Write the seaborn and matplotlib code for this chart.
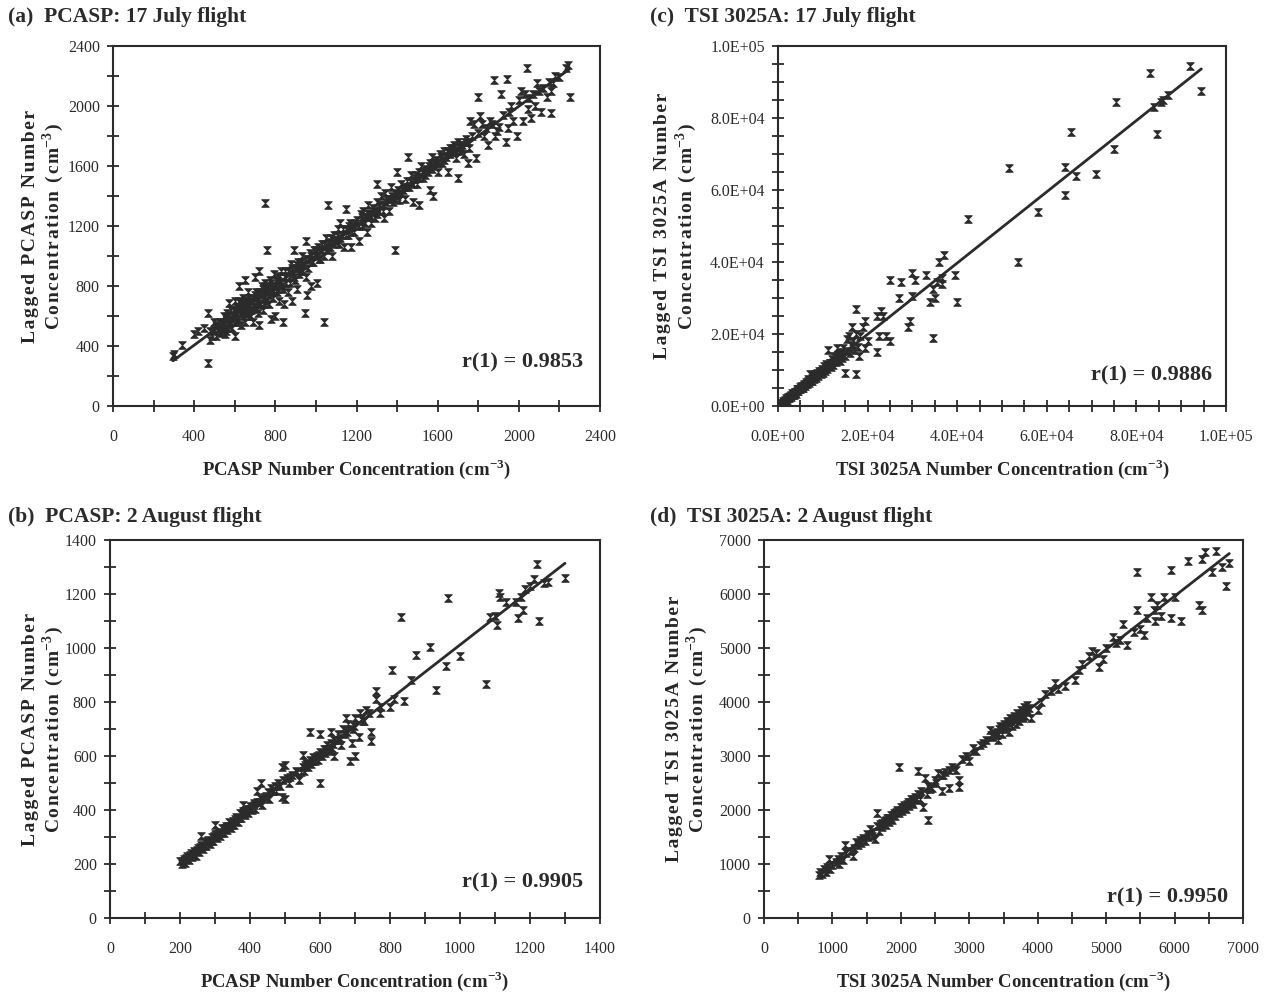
import numpy as np
import matplotlib
matplotlib.use("Agg")
import matplotlib.pyplot as plt
from matplotlib.path import Path
from matplotlib.ticker import MultipleLocator, FuncFormatter
import seaborn as sns

# ---- data (x = instrument, y = lagged) ----
pcasp_jul = [
    (295, 335), (300, 345), (340, 410), (400, 480), (420, 500), (450, 520), (470, 290), (470, 620),
    (480, 440), (490, 470), (500, 560), (510, 470), (520, 520), (520, 560), (530, 500), (540, 540),
    (545, 600), (550, 480), (555, 580), (560, 620), (560, 520), (570, 690), (575, 560), (580, 640),
    (590, 600), (600, 470), (600, 560), (600, 700), (605, 620), (610, 660), (615, 580), (620, 800),
    (620, 640), (625, 690), (630, 540), (640, 720), (640, 600), (645, 650), (650, 840), (650, 560),
    (655, 700), (660, 620), (665, 760), (670, 680), (675, 600), (680, 640), (690, 720), (690, 560),
    (700, 860), (700, 660), (705, 760), (710, 700), (715, 620), (720, 540), (720, 900), (725, 740),
    (730, 680), (735, 800), (740, 640), (745, 720), (750, 1350), (750, 820), (755, 700), (760, 1040),
    (760, 760), (770, 680), (775, 840), (780, 580), (785, 780), (790, 720), (795, 880), (800, 800),
    (800, 600), (810, 760), (815, 860), (820, 700), (825, 820), (830, 900), (840, 560), (840, 780),
    (845, 680), (850, 860), (860, 900), (860, 760), (870, 820), (875, 950), (880, 700), (885, 880),
    (890, 1040), (895, 840), (900, 920), (905, 780), (910, 960), (920, 900), (930, 1000), (940, 940),
    (945, 620), (950, 1100), (950, 860), (955, 740), (960, 980), (970, 1020), (975, 800), (980, 960),
    (990, 1040), (1000, 1000), (1005, 820), (1010, 1060), (1020, 980), (1030, 1080), (1040, 560),
    (1040, 1000), (1050, 1120), (1055, 1040), (1060, 1340), (1065, 1090), (1070, 1060), (1080, 1000),
    (1090, 1140), (1100, 1100), (1110, 1180), (1115, 1080), (1120, 1220), (1130, 1140), (1140, 1060),
    (1150, 1310), (1150, 1180), (1160, 1140), (1170, 1220), (1175, 1060), (1180, 1200), (1190, 1160),
    (1200, 1240), (1210, 1100), (1220, 1280), (1225, 1200), (1230, 1300), (1240, 1260), (1250, 1160),
    (1255, 1340), (1260, 1280), (1270, 1220), (1280, 1320), (1290, 1250), (1300, 1480), (1300, 1360),
    (1310, 1300), (1320, 1400), (1330, 1340), (1335, 1250), (1340, 1420), (1350, 1380), (1360, 1300),
    (1370, 1460), (1380, 1360), (1390, 1040), (1390, 1420), (1400, 1560), (1400, 1400), (1410, 1370),
    (1420, 1480), (1430, 1440), (1440, 1380), (1450, 1500), (1455, 1660), (1460, 1460), (1470, 1540),
    (1480, 1360), (1490, 1520), (1500, 1480), (1510, 1340), (1510, 1560), (1520, 1600), (1530, 1520),
    (1540, 1580), (1550, 1560), (1560, 1440), (1560, 1620), (1570, 1660), (1575, 1400), (1580, 1600),
    (1590, 1640), (1600, 1560), (1610, 1680), (1620, 1620), (1630, 1700), (1640, 1660), (1650, 1560),
    (1660, 1720), (1670, 1690), (1680, 1740), (1690, 1650), (1700, 1760), (1700, 1520), (1710, 1700),
    (1720, 1740), (1730, 1680), (1740, 1780), (1750, 1620), (1755, 1720), (1760, 1900), (1770, 1800),
    (1780, 1880), (1790, 1650), (1800, 2060), (1800, 1820), (1810, 1930), (1820, 1880), (1830, 1800),
    (1840, 1850), (1850, 1740), (1860, 1900), (1870, 1880), (1880, 2170), (1885, 1800), (1890, 1830),
    (1900, 1860), (1910, 2080), (1920, 1940), (1935, 1760), (1940, 2180), (1945, 1850), (1950, 1960),
    (1960, 2000), (1970, 1900), (1990, 1800), (2000, 2040), (2010, 2100), (2020, 1900), (2030, 2080),
    (2040, 2250), (2045, 1980), (2050, 2050), (2060, 1920), (2070, 2080), (2080, 2000), (2090, 2150),
    (2100, 2100), (2110, 1960), (2120, 2120), (2140, 2060), (2150, 2160), (2160, 1950), (2160, 2100),
    (2170, 2150), (2180, 2200), (2200, 2190), (2230, 2250), (2240, 2270), (2250, 2060),
    # dense core of the band
    (480, 500), (500, 510), (510, 540), (525, 490), (535, 560), (545, 520), (555, 500), (565, 600),
    (570, 540), (580, 580), (585, 520), (595, 640), (600, 600), (610, 560), (620, 700), (630, 620),
    (635, 680), (650, 620), (650, 700), (660, 660), (670, 720), (680, 600), (685, 700), (695, 660),
    (700, 740), (710, 650), (720, 760), (725, 680), (740, 780), (745, 680), (760, 800), (770, 740),
    (780, 820), (790, 760), (805, 840), (815, 780), (825, 870), (835, 800), (850, 900), (855, 820),
    (865, 860), (880, 920), (890, 860), (905, 940), (915, 880), (925, 960), (935, 900), (950, 980),
    (960, 920), (975, 1000), (985, 960), (1000, 1040), (1015, 980), (1025, 1040), (1040, 1080),
    (1060, 1060), (1075, 1120), (1090, 1080), (1105, 1140), (1120, 1120), (1135, 1180), (1150, 1140),
    (1165, 1200), (1180, 1160), (1195, 1220), (1210, 1200), (1225, 1260), (1240, 1220), (1255, 1280),
    (1270, 1260), (1285, 1300), (1300, 1280), (1315, 1340), (1330, 1300), (1345, 1360), (1360, 1380),
    (1375, 1400), (1390, 1380), (1405, 1440), (1420, 1420), (1435, 1460), (1450, 1460), (1465, 1500),
    (1480, 1480), (1495, 1540), (1510, 1520), (1525, 1560), (1540, 1540), (1555, 1600), (1570, 1580),
    (1585, 1620), (1600, 1620), (1615, 1660), (1630, 1640), (1645, 1700), (1660, 1680), (1675, 1720),
    (1690, 1700), (1705, 1740), (1720, 1720), (1735, 1760), (1750, 1760),
]

pcasp_aug = [
    (200, 210), (205, 200), (210, 220), (215, 205), (220, 230), (225, 215), (230, 240), (235, 225),
    (240, 250), (245, 230), (250, 260), (255, 245), (260, 305), (260, 270), (265, 255), (270, 280),
    (275, 265), (280, 290), (285, 275), (290, 300), (295, 285), (300, 345), (300, 310), (305, 295),
    (310, 320), (315, 305), (320, 335), (325, 315), (330, 340), (335, 325), (340, 355), (345, 335),
    (350, 360), (355, 345), (360, 375), (365, 355), (370, 390), (375, 370), (380, 420), (380, 395),
    (385, 380), (390, 405), (395, 390), (400, 415), (405, 400), (410, 425), (415, 405), (420, 470),
    (420, 430), (430, 500), (430, 440), (435, 420), (440, 450), (450, 465), (455, 440), (460, 480),
    (470, 490), (475, 470), (480, 500), (490, 560), (490, 450), (495, 510), (500, 440), (500, 565),
    (505, 520), (510, 500), (520, 530), (530, 545), (540, 510), (545, 540), (550, 605), (550, 560),
    (555, 545), (560, 575), (565, 560), (570, 690), (570, 585), (575, 570), (580, 595), (585, 580),
    (590, 600), (595, 585), (600, 500), (600, 680), (600, 615), (605, 600), (610, 625), (615, 610),
    (620, 640), (625, 620), (630, 690), (630, 650), (635, 630), (640, 600), (640, 660), (650, 680),
    (655, 660), (660, 640), (665, 700), (670, 680), (675, 740), (680, 720), (685, 580), (690, 650),
    (695, 700), (700, 600), (700, 740), (710, 670), (715, 760), (720, 740), (725, 730), (730, 770),
    (740, 760), (745, 690), (745, 655), (760, 840), (760, 810), (770, 760), (775, 780), (800, 780),
    (805, 920), (810, 810), (830, 1115), (840, 805), (860, 880), (875, 975), (915, 1005), (930, 845),
    (960, 935), (965, 1185), (1000, 970), (1075, 865), (1085, 1115), (1100, 1120), (1105, 1085),
    (1110, 1205), (1115, 1190), (1130, 1170), (1160, 1170), (1165, 1110), (1175, 1190), (1180, 1140),
    (1185, 1220), (1200, 1230), (1210, 1255), (1220, 1310), (1225, 1100), (1240, 1240), (1250, 1245),
    (1300, 1260),
    # dense core
    (208, 212), (218, 222), (228, 232), (238, 236), (248, 252), (258, 262), (268, 266), (278, 284),
    (288, 286), (298, 304), (308, 312), (318, 316), (328, 334), (338, 342), (348, 346), (358, 366),
    (368, 372), (378, 384), (388, 392), (398, 404), (412, 418), (425, 428), (445, 452), (465, 470),
    (485, 490), (515, 522), (535, 540), (558, 566), (578, 582), (598, 604), (618, 626), (638, 644),
    (658, 668), (678, 690), (698, 712), (722, 728),
]

tsi_jul = [
    (500, 400), (800, 600), (1000, 900), (1200, 1400), (1500, 1000), (1500, 1800), (1800, 2200),
    (2000, 1600), (2200, 2600), (2500, 2100), (2500, 2500), (2800, 3000), (3000, 2600), (3200, 3500),
    (3500, 3100), (3500, 3600), (3800, 4000), (4000, 3400), (4200, 4600), (4500, 4100), (4500, 4600),
    (4800, 5200), (5000, 4600), (5200, 5600), (5500, 5000), (5500, 5600), (5800, 6200), (6000, 5500),
    (6200, 6800), (6500, 6000), (6800, 7400), (7000, 6500), (7200, 8800), (7500, 7000), (7800, 8200),
    (8000, 7400), (8200, 9000), (8500, 7900), (8800, 9300), (9000, 8300), (9200, 9800), (9500, 8800),
    (9800, 10400), (10000, 9200), (10300, 11000), (10500, 9800), (10800, 11600), (11000, 10200),
    (11200, 15500), (11500, 12000), (11800, 10800), (12000, 13000), (12300, 11500), (12600, 14000),
    (13000, 12200), (13200, 16200), (13500, 13000), (13800, 12500), (14000, 15000), (14300, 13400),
    (14600, 16000), (15000, 14000), (15000, 9200), (15300, 18500), (15500, 15200), (15800, 19500),
    (16000, 14800), (16300, 17000), (16500, 22000), (16800, 18000), (17000, 15500), (17300, 20000),
    (17500, 27000), (17500, 9000), (17800, 16500), (18000, 14000), (18200, 19500), (19000, 22000),
    (19500, 23500), (19500, 16000), (20000, 18000), (22000, 15000), (22000, 25000), (22500, 19500),
    (23000, 26500), (23500, 25000), (24000, 19500), (25000, 18000), (25000, 35000), (27000, 30000),
    (27500, 34500), (29000, 22000), (29500, 23500), (30000, 30500), (30000, 37000), (30500, 35000),
    (33000, 36500), (34000, 29000), (34500, 19000), (34500, 32500), (35000, 30000), (35500, 34500),
    (36000, 40000), (36500, 35500), (36500, 34000), (37000, 42000), (39500, 36500), (40000, 29000),
    (42500, 52000), (51500, 66000), (53500, 40000), (58000, 54000), (64000, 58500), (64000, 66500),
    (65500, 76000), (66500, 64000), (71000, 64500), (75000, 71500), (75500, 84500), (83000, 92500),
    (84000, 83000), (84500, 75500), (85500, 84500), (86000, 85000), (87000, 86500), (92000, 94500),
    (94500, 87500),
    # dense core near the origin
    (300, 200), (700, 800), (1300, 1100), (1700, 1500), (2300, 2200), (2700, 2800), (3300, 3000),
    (3700, 3800), (4300, 4100), (4700, 4800), (5300, 5100), (5700, 5900), (6300, 6100), (6700, 7000),
    (7300, 7000), (7700, 7900), (8300, 8100), (8700, 8900), (9300, 9100), (9700, 9600), (10200, 10100),
    (10700, 10500), (11300, 11200), (11700, 11900), (12200, 12100), (12700, 12500), (13300, 13500),
    (13700, 14100), (14200, 14400),
]

tsi_aug = [
    (800, 800), (820, 850), (850, 820), (870, 900), (900, 860), (920, 950), (950, 1100), (960, 900),
    (1000, 980), (1050, 1040), (1080, 1100), (1100, 1000), (1120, 1150), (1150, 1080), (1180, 1350),
    (1200, 1200), (1250, 1250), (1300, 1140), (1320, 1300), (1350, 1400), (1380, 1350), (1400, 1450),
    (1420, 1380), (1450, 1480), (1480, 1420), (1500, 1550), (1520, 1500), (1550, 1640), (1580, 1520),
    (1600, 1600), (1620, 1460), (1650, 1950), (1650, 1700), (1680, 1620), (1700, 1750), (1720, 1680),
    (1750, 1800), (1780, 1720), (1800, 1850), (1820, 1780), (1850, 1900), (1870, 1820), (1900, 1950),
    (1920, 1880), (1950, 2000), (1980, 2800), (1980, 1940), (2000, 2050), (2020, 1980), (2050, 2100),
    (2080, 2020), (2100, 2150), (2120, 2080), (2150, 2200), (2180, 2120), (2200, 2250), (2220, 2180),
    (2250, 2720), (2250, 2300), (2280, 2200), (2300, 2350), (2320, 2050), (2350, 2600), (2380, 2300),
    (2400, 1820), (2400, 2450), (2450, 2400), (2500, 2550), (2550, 2680), (2600, 2350), (2600, 2650),
    (2650, 2700), (2700, 2400), (2700, 2750), (2750, 2800), (2800, 2750), (2850, 2550), (2850, 2420),
    (2900, 2950), (2950, 3000), (3000, 2900), (3050, 3150), (3100, 3100), (3150, 3200), (3200, 3250),
    (3250, 3300), (3300, 3480), (3350, 3350), (3400, 3450), (3420, 3300), (3450, 3550), (3480, 3400),
    (3500, 3600), (3520, 3500), (3550, 3650), (3580, 3450), (3600, 3700), (3620, 3550), (3650, 3750),
    (3680, 3600), (3700, 3800), (3720, 3650), (3750, 3850), (3780, 3700), (3800, 3900), (3820, 3750),
    (3850, 3950), (3900, 3700), (4000, 3850), (4050, 4000), (4100, 4150), (4200, 4200), (4250, 4350),
    (4300, 4250), (4400, 4300), (4550, 4400), (4600, 4600), (4650, 4700), (4750, 4850), (4800, 4950),
    (4850, 4900), (4900, 4650), (4950, 4800), (5000, 5000), (5100, 5200), (5150, 5100), (5200, 5150),
    (5250, 5450), (5300, 5050), (5400, 5300), (5450, 6400), (5450, 5700), (5500, 5350), (5550, 5250),
    (5600, 5550), (5650, 5950), (5700, 5700), (5720, 5500), (5750, 5800), (5800, 5600), (5850, 5950),
    (5950, 5550), (5950, 6450), (6000, 5950), (6100, 5500), (6200, 6620), (6350, 5800), (6400, 6650),
    (6400, 5700), (6450, 6780), (6550, 6400), (6600, 6800), (6700, 6500), (6750, 6150), (6800, 6580),
    # dense clusters
    (1720, 1760), (1760, 1740), (1790, 1820), (1830, 1860), (1860, 1850), (1890, 1900), (1930, 1960),
    (1960, 1980), (2000, 2000), (2030, 2060), (2060, 2040), (2090, 2110), (2130, 2150), (2160, 2140),
    (2190, 2210), (3320, 3380), (3360, 3420), (3400, 3380), (3440, 3500), (3470, 3520), (3510, 3540),
    (3540, 3580), (3570, 3620), (3610, 3640), (3640, 3680), (3670, 3700), (3710, 3720), (3740, 3760),
    (3770, 3800), (3810, 3820), (3840, 3860), (3870, 3880), (2420, 2380), (2520, 2500), (2620, 2640),
]

titles = ["(a)  PCASP: 17 July flight", "(b)  PCASP: 2 August flight",
          "(c)  TSI 3025A: 17 July flight", "(d)  TSI 3025A: 2 August flight"]
r_labels = ["r(1) = 0.9853", "r(1) = 0.9905", "r(1) = 0.9886", "r(1) = 0.9950"]
x_labels = ["PCASP Number Concentration (cm$^{\\mathbf{-3}}$)"] * 2 + \
           ["TSI 3025A Number Concentration (cm$^{\\mathbf{-3}}$)"] * 2
y_first = ["Lagged PCASP Number"] * 2 + ["Lagged TSI 3025A Number"] * 2
y_second = "Concentration (cm"
limits = [2400, 1400, 100000, 7000]
major = [400, 200, 20000, 1000]
minor = [200, 100, 5000, 500]

# ---- style ----
sns.set_theme(style="ticks")
ink = "#2b2b2b"
plt.rcParams["font.family"] = ["Liberation Serif", "DejaVu Serif"]
plt.rcParams["mathtext.fontset"] = "custom"
plt.rcParams["mathtext.rm"] = "Liberation Serif"
plt.rcParams["mathtext.bf"] = "Liberation Serif:bold"
plt.rcParams["text.color"] = ink
plt.rcParams["axes.edgecolor"] = ink
plt.rcParams["xtick.color"] = ink
plt.rcParams["ytick.color"] = ink


def spaced(s):
    # the y labels in the scan are letter-spaced
    return "\u200a".join(s)


# hourglass-like "x" marker seen in the scan
hourglass = Path([(-1, 1), (1, -1), (-1, -1), (1, 1), (-1, 1)],
                 [Path.MOVETO, Path.LINETO, Path.LINETO, Path.LINETO, Path.CLOSEPOLY])

fig = plt.figure(figsize=(12.67, 10), dpi=100)
rects = [
    [113 / 1267, 0.594, 487 / 1267, 0.360],   # a
    [110 / 1267, 0.082, 490 / 1267, 0.378],   # b
    [778 / 1267, 0.594, 448 / 1267, 0.360],   # c
    [764 / 1267, 0.082, 479 / 1267, 0.378],   # d
]
title_pos = [(8, 17), (8, 517), (650, 17), (650, 517)]
r_pos = [(0.965, 0.122), (0.965, 0.095), (0.969, 0.086), (0.969, 0.053)]
ylabel_pad = [1, -1, 8, 6]

for i, pts in enumerate([pcasp_jul, pcasp_aug, tsi_jul, tsi_aug]):
    arr = np.array(pts, dtype=float)
    ax = fig.add_axes(rects[i])
    sns.scatterplot(x=arr[:, 0], y=arr[:, 1], ax=ax, marker=hourglass, s=30,
                    color=ink, edgecolor=ink, linewidth=0.6, zorder=3)
    sns.regplot(x=arr[:, 0], y=arr[:, 1], ax=ax, scatter=False, ci=None, truncate=True,
                line_kws=dict(color=ink, lw=2.0, zorder=4))
    lim = limits[i]
    ax.set_xlim(0, lim)
    ax.set_ylim(0, lim)
    ax.xaxis.set_major_locator(MultipleLocator(major[i]))
    ax.yaxis.set_major_locator(MultipleLocator(major[i]))
    ax.xaxis.set_minor_locator(MultipleLocator(minor[i]))
    ax.yaxis.set_minor_locator(MultipleLocator(minor[i]))
    if lim == 100000:
        fmt = FuncFormatter(lambda v, p: f"{v:.1E}")
        ax.xaxis.set_major_formatter(fmt)
        ax.yaxis.set_major_formatter(fmt)
    ax.tick_params(which="both", direction="inout", width=1.3, length=9, labelsize=11.5)
    ax.tick_params(axis="x", pad=12)
    ax.tick_params(axis="y", pad=5)
    for sp in ax.spines.values():
        sp.set_visible(True)
        sp.set_linewidth(1.5)
        sp.set_color(ink)
    ax.set_xlabel(x_labels[i], fontsize=13.5, fontweight="bold", labelpad=9)
    ylab = spaced(y_first[i]) + "\n" + spaced(y_second) + "$^{\\mathbf{-3}}$\u200a)"
    ax.set_ylabel(ylab, fontsize=14, fontweight="bold", labelpad=ylabel_pad[i],
                  linespacing=1.1)
    ax.text(r_pos[i][0], r_pos[i][1], r_labels[i], transform=ax.transAxes,
            ha="right", va="center", fontsize=16, fontweight="bold")
    tx, ty = title_pos[i]
    fig.text(tx / 1267, 1 - ty / 1000, titles[i], ha="left", va="center",
             fontsize=15.5, fontweight="bold")

fig.savefig("out.png", dpi=100, facecolor="white")
